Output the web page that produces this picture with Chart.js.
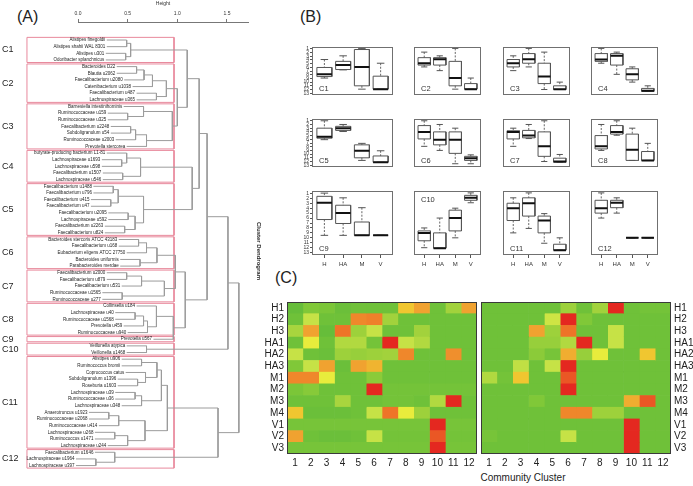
<!DOCTYPE html>
<html>
<head>
<meta charset="utf-8">
<script src="https://cdn.jsdelivr.net/npm/chart.js@4.4.0/dist/chart.umd.min.js"></script>
<style>
  body { margin: 0; width: 693px; height: 486px; position: relative; overflow: hidden; background: #fff;
         font-family: "Liberation Sans", Arial, sans-serif; color: #222; }
  canvas { position: absolute; }
  .tag { position: absolute; font-size: 16px; line-height: 1; }
  .axis-title { position: absolute; font-size: 10px; line-height: 1; text-align: center; }
</style>
</head>
<body>
<div class="tag" style="left:17px;top:9px">(A)</div>
<div class="tag" style="left:300px;top:9px">(B)</div>
<div class="tag" style="left:275px;top:270px">(C)</div>
<div class="axis-title" style="left:423px;top:473px;width:200px">Community Cluster</div>
<canvas id="dendro" width="262" height="486" style="left:0;top:0"></canvas>
<canvas id="heatLeft" width="240" height="178" style="left:240px;top:292px"></canvas>
<canvas id="heatRight" width="215" height="178" style="left:478px;top:292px"></canvas>

<script>
// ---- data ----
const leafNames = [
  'Alistipes finegoldii', 'Alistipes shahii WAL 8301', 'Alistipes u301', 'Odoribacter splanchnicus',
  'Bacteroides D22', 'Blautia u2062', 'Faecalibacterium u2080', 'Catenibacterium u1038',
  'Faecalibacterium u487', 'Lachnospiraceae u365',
  'Barnesiella intestinihominis', 'Ruminococcaceae u159', 'Ruminococcaceae u325', 'Faecalibacterium u2248',
  'Subdoligranulum u54', 'Ruminococcaceae u2003', 'Prevotella stercorea',
  'butyrate-producing bacterium L1-81', 'Lachnospiraceae u1693', 'Lachnospiraceae u598',
  'Faecalibacterium u1507', 'Lachnospiraceae u546',
  'Faecalibacterium u1488', 'Faecalibacterium u796', 'Faecalibacterium u415', 'Faecalibacterium u47',
  'Faecalibacterium u2095', 'Lachnospiraceae u592', 'Faecalibacterium u2263', 'Faecalibacterium u824',
  'Bacteroides stercoris ATCC 43183', 'Faecalibacterium u168', 'Eubacterium eligens ATCC 27750',
  'Bacteroides uniformis', 'Parabacteroides merdae',
  'Faecalibacterium u2000', 'Faecalibacterium u879', 'Faecalibacterium u531', 'Ruminococcaceae u1565',
  'Ruminococcaceae u277',
  'Collinsella u184', 'Lachnospiraceae u40', 'Ruminococcaceae u1568', 'Prevotella u459', 'Ruminococcaceae u940',
  'Prevotella u567',
  'Veillonella atypica', 'Veillonella u1468',
  'Alistipes u906', 'Ruminococcus bromii', 'Coprococcus catus', 'Subdoligranulum u1396', 'Roseburia u1603',
  'Lachnospiraceae u39', 'Ruminococcaceae u36', 'Lachnospiraceae u348', 'Anaerotruncus u1923',
  'Ruminococcaceae u2068', 'Ruminococcaceae u414', 'Lachnospiraceae u268', 'Ruminococcus u1471',
  'Lachnospiraceae u244',
  'Faecalibacterium u1646', 'Lachnospiraceae u1964', 'Lachnospiraceae u397'
];
const clusterNames = ['C1', 'C2', 'C3', 'C4', 'C5', 'C6', 'C7', 'C8', 'C9', 'C10', 'C11', 'C12'];
const clusterSizes = [4, 6, 7, 5, 8, 5, 5, 5, 1, 2, 14, 3];

// hclust-style merge table: negative = leaf, positive = earlier merge row; third value = height
const merges = [
  [-1, -2, 0.49], [-3, -4, 0.48], [1, 2, 0.53],
  [-5, -6, 0.59], [4, -7, 0.665], [5, -8, 0.75], [-9, -10, 0.79], [6, 7, 0.89],
  [-12, -13, 0.50], [-11, 9, 0.66], [-14, -15, 0.53], [11, -16, 0.58], [12, -17, 0.69], [10, 13, 0.95],
  [8, 14, 1.00], [3, 15, 1.10],
  [-19, -20, 0.44], [-18, 17, 0.49], [-21, -22, 0.45], [18, 19, 0.63],
  [-23, -24, 0.355], [-25, -26, 0.33], [21, 22, 0.405], [-27, -28, 0.505], [-29, -30, 0.47], [24, 25, 0.575],
  [23, 26, 0.66],
  [20, 27, 1.15], [16, 28, 1.22],
  [-31, -32, 0.61], [30, -33, 0.69], [-34, -35, 0.625], [31, 32, 0.795],
  [-36, -37, 0.49], [34, -38, 0.64], [-39, -40, 0.445], [35, 36, 0.87],
  [33, 37, 0.98],
  [-42, -43, 0.575], [39, -44, 0.66], [40, -45, 0.70], [-41, 41, 0.79],
  [42, -46, 0.96], [38, 43, 1.08], [29, 44, 1.30],
  [-47, -48, 0.69], [45, 46, 1.51],
  [-49, -50, 0.64], [-52, -53, 0.60], [-51, 49, 0.68], [48, 50, 0.795],
  [-54, -55, 0.575], [52, -56, 0.64], [51, 53, 0.84],
  [-57, -58, 0.31], [55, -59, 0.41], [-60, -61, 0.37], [57, -62, 0.50], [56, 58, 0.675], [54, 59, 0.90],
  [-64, -65, 0.18], [-63, 61, 0.37],
  [60, 62, 1.41], [47, 63, 1.62]
];
const heightTicks = [0, 0.5, 1.0, 1.5];

const groups = ['H', 'HA', 'M', 'V'];
const rankTicks = [1, 2, 3, 4, 5, 6, 7, 8, 9, 10, 11, 12, 13];
// per cluster, per group: [lower whisker, Q1, median, Q3, upper whisker] (rank, 1 = top)
const boxStats = [
  [[3.9, 6.05, 7.9, 8.5, 8.9], [2.9, 4.4, 5.4, 6.6, 6.7], [0.9, 1.2, 5.9, 11.0, 11.9], [4.9, 8.4, 11.9, 11.9, 11.9]],
  [[1.9, 3.4, 4.9, 5.4, 5.9], [2.9, 3.4, 3.8, 5.4, 6.9], [0.9, 4.4, 8.9, 11.0, 11.9], [8.9, 10.4, 11.9, 11.9, 11.9]],
  [[2.9, 3.9, 4.9, 5.9, 6.9], [0.9, 2.3, 3.8, 4.9, 5.9], [1.9, 4.9, 8.5, 10.4, 12.0], [10.0, 11.0, 11.9, 12.0, 12.0]],
  [[0.9, 2.3, 3.9, 4.4, 4.9], [1.9, 2.3, 2.9, 5.4, 7.9], [5.9, 6.4, 7.9, 9.4, 10.0], [11.0, 11.7, 12.3, 12.5, 12.5]],
  [[1.0, 3.0, 5.3, 5.7, 6.1], [2.0, 2.5, 3.0, 3.6, 3.9], [7.1, 7.5, 9.1, 11.0, 11.7], [9.1, 10.5, 12.2, 12.2, 12.2]],
  [[1.0, 2.3, 4.0, 5.9, 7.9], [2.0, 4.0, 6.1, 7.5, 9.0], [3.0, 4.0, 6.1, 9.8, 12.6], [10.2, 10.6, 11.1, 11.7, 12.6]],
  [[3.0, 3.7, 4.0, 5.9, 7.9], [2.0, 3.6, 5.0, 5.6, 5.8], [1.0, 4.0, 7.9, 10.6, 12.0], [10.1, 11.1, 12.0, 12.2, 12.2]],
  [[2.0, 5.0, 7.9, 8.6, 9.0], [1.0, 2.3, 4.0, 4.6, 4.9], [3.0, 4.6, 8.8, 11.7, 11.7], [7.1, 9.3, 11.7, 11.7, 11.7]],
  [[0.95, 1.6, 2.9, 6.3, 9.5], [1.9, 3.4, 5.0, 7.1, 9.5], [3.9, 6.8, 9.5, 9.5, 9.5], [9.5, 9.5, 9.5, 9.5, 9.5]],
  [[8.0, 8.6, 9.0, 10.6, 12.0], [6.0, 9.0, 12.1, 12.1, 12.1], [4.0, 4.4, 6.0, 8.6, 10.0], [0.9, 1.4, 1.9, 2.4, 2.9]],
  [[1.9, 3.0, 4.0, 6.5, 9.0], [0.9, 1.9, 3.0, 5.6, 8.1], [5.1, 5.6, 6.5, 9.0, 11.1], [10.0, 11.3, 12.5, 12.5, 12.5]],
  [[0.9, 2.4, 4.0, 5.0, 6.0], [1.9, 2.4, 2.9, 3.9, 5.0], [10, 10, 10, 10, 10], [10, 10, 10, 10, 10]]
];

const heatRows = ['H1', 'H2', 'H3', 'HA1', 'HA2', 'HA3', 'M1', 'M2', 'M3', 'M4', 'V1', 'V2', 'V3'];
const heatCols = ['1', '2', '3', '4', '5', '6', '7', '8', '9', '10', '11', '12'];
// 0 = green ... 1 = red
const heatLeftValues = [
  [0.00, 0.15, 0.12, 0.03, 0.06, 0.05, 0.05, 0.65, 0.75, 0.05, 0.30, 0.75],
  [0.05, 0.42, 0.05, 0.05, 0.82, 0.84, 0.30, 0.05, 0.05, 0.05, 0.05, 0.05],
  [0.32, 0.75, 0.00, 0.87, 0.28, 0.42, 0.05, 0.05, 0.30, 0.05, 0.05, 0.05],
  [0.05, 0.55, 0.05, 0.35, 0.35, 0.08, 1.00, 0.42, 0.35, 0.05, 0.05, 0.05],
  [0.42, 0.05, 0.03, 0.28, 0.25, 0.28, 0.30, 0.82, 0.05, 0.05, 0.80, 0.05],
  [0.15, 0.42, 0.75, 0.03, 0.75, 0.70, 0.05, 0.05, 0.05, 0.05, 0.05, 0.05],
  [0.82, 0.82, 0.55, 0.05, 0.05, 0.20, 0.05, 0.05, 0.05, 0.05, 0.05, 0.05],
  [0.12, 0.18, 0.05, 0.05, 0.05, 1.00, 0.08, 0.08, 0.08, 0.08, 0.08, 0.08],
  [0.05, 0.05, 0.05, 0.32, 0.05, 0.05, 0.08, 0.08, 0.05, 0.35, 1.00, 0.05],
  [0.65, 0.03, 0.03, 0.03, 0.05, 0.42, 0.87, 0.55, 0.28, 0.05, 0.05, 0.05],
  [0.10, 0.10, 0.10, 0.10, 0.10, 0.10, 0.10, 0.10, 0.10, 1.00, 0.10, 0.10],
  [0.75, 0.05, 0.03, 0.03, 0.05, 0.42, 0.08, 0.08, 0.08, 0.92, 0.08, 0.08],
  [0.10, 0.10, 0.10, 0.10, 0.10, 0.10, 0.10, 0.10, 0.10, 1.00, 0.10, 0.10]
];
const heatRightValues = [
  [0.05, 0.05, 0.05, 0.05, 0.05, 0.28, 0.05, 0.30, 1.00, 0.05, 0.08, 0.08],
  [0.05, 0.05, 0.05, 0.05, 0.45, 1.00, 0.15, 0.05, 0.05, 0.05, 0.05, 0.05],
  [0.05, 0.05, 0.05, 0.75, 0.28, 0.87, 0.05, 0.05, 0.42, 0.05, 0.05, 0.05],
  [0.05, 0.05, 0.05, 0.25, 0.25, 0.35, 1.00, 0.05, 0.42, 0.05, 0.05, 0.05],
  [0.05, 0.05, 0.05, 0.20, 0.10, 0.72, 0.25, 0.55, 0.05, 0.05, 0.65, 0.05],
  [0.05, 0.05, 0.40, 0.05, 0.42, 1.00, 0.05, 0.05, 0.05, 0.05, 0.05, 0.05],
  [0.35, 0.08, 0.65, 0.05, 0.05, 0.92, 0.05, 0.05, 0.05, 0.05, 0.05, 0.05],
  [0.05, 0.05, 0.05, 0.05, 0.05, 1.00, 0.05, 0.05, 0.05, 0.05, 0.05, 0.05],
  [0.05, 0.05, 0.05, 0.15, 0.05, 0.05, 0.05, 0.05, 0.05, 0.72, 0.92, 0.05],
  [0.05, 0.05, 0.05, 0.05, 0.05, 0.82, 0.82, 0.28, 0.28, 0.05, 0.05, 0.05],
  [0.05, 0.05, 0.05, 0.05, 0.05, 0.05, 0.05, 0.05, 0.05, 1.00, 0.05, 0.05],
  [0.10, 0.05, 0.05, 0.05, 0.05, 0.42, 0.05, 0.05, 0.05, 1.00, 0.05, 0.05],
  [0.05, 0.05, 0.05, 0.05, 0.05, 0.05, 0.05, 0.05, 0.05, 1.00, 0.05, 0.05]
];

// ---- defaults ----
const FONT = '"Liberation Sans", Arial, sans-serif';
Chart.defaults.font.family = FONT;
Chart.defaults.color = '#222';
Chart.defaults.responsive = false;
Chart.defaults.animation = false;
Chart.defaults.events = [];
Chart.defaults.plugins.legend.display = false;
Chart.defaults.plugins.tooltip.enabled = false;

const gap = () => ({ x: NaN, y: NaN });

// draws a plain rectangle round the plot area
const frame = (color, width) => ({
  id: 'frame',
  afterDatasetsDraw(chart) {
    const { ctx, chartArea: a } = chart;
    ctx.save();
    ctx.strokeStyle = color;
    ctx.lineWidth = width;
    ctx.strokeRect(a.left + 0.5, a.top + 0.5, a.right - a.left - 1, a.bottom - a.top - 1);
    ctx.restore();
  }
});

// ---- (A) dendrogram ----
const HANG = 0.2;
const nodes = [];
const leafStart = [];
const treeSegs = [];
merges.forEach(([a, b, h]) => {
  const ends = [a, b].map(id => {
    if (id < 0) {
      const i = -id - 1;
      leafStart[i] = h - HANG;
      return { x: h - HANG, y: i };
    }
    return nodes[id - 1];
  });
  treeSegs.push({ x: ends[0].x, y: ends[0].y }, { x: h, y: ends[0].y },
                { x: h, y: ends[1].y }, { x: ends[1].x, y: ends[1].y }, gap());
  nodes.push({ x: h, y: (ends[0].y + ends[1].y) / 2 });
});

const BOX_L = -0.514, BOX_R = 0.967;
const boxSegs = [];
const clusterMid = [];
let first = 0;
clusterSizes.forEach(n => {
  const top = first - 0.4, bottom = first + n - 1 + 0.38;
  boxSegs.push({ x: BOX_L, y: top }, { x: BOX_R, y: top }, { x: BOX_R, y: bottom },
               { x: BOX_L, y: bottom }, { x: BOX_L, y: top }, gap());
  clusterMid.push(first + (n - 1) / 2);
  first += n;
});

const dendroText = {
  id: 'dendroText',
  afterDatasetsDraw(chart) {
    const { ctx, scales: { x, y } } = chart;
    ctx.save();
    ctx.fillStyle = '#1e1e1e';
    ctx.textBaseline = 'middle';
    ctx.textAlign = 'right';
    ctx.font = '4.5px ' + FONT;
    leafNames.forEach((name, i) => {
      ctx.fillText(name, x.getPixelForValue(leafStart[i]) - 1.5, y.getPixelForValue(i));
    });
    ctx.textAlign = 'left';
    ctx.font = '9px ' + FONT;
    clusterNames.forEach((name, k) => ctx.fillText(name, 2, y.getPixelForValue(clusterMid[k])));
    ctx.restore();
  }
};

new Chart(document.getElementById('dendro'), {
  type: 'scatter',
  data: {
    datasets: [
      { data: treeSegs, showLine: true, borderColor: '#9c9c9c', borderWidth: 1, pointRadius: 0, clip: false },
      { data: boxSegs, showLine: true, borderColor: '#e8899c', borderWidth: 1, pointRadius: 0, clip: false }
    ]
  },
  options: {
    layout: { padding: { left: 78, right: 0, top: 0, bottom: 6 } },
    scales: {
      x: {
        type: 'linear', position: 'top', min: 0, max: 1.712,
        afterBuildTicks: s => { s.ticks = heightTicks.map(v => ({ value: v })); },
        ticks: { font: { size: 5 }, color: '#333', padding: 2, maxRotation: 0, autoSkip: false,
                 callback: v => v.toFixed(1) },
        grid: { drawOnChartArea: false, drawTicks: true, tickLength: 3, color: '#777' },
        border: { display: true, color: '#777', width: 1 },
        title: { display: true, text: 'Height', font: { size: 5 }, color: '#333', padding: { top: 1, bottom: 0 } },
        afterFit: s => { s.height = 22; }
      },
      y: {
        type: 'linear', position: 'right', reverse: true, min: -2.71, max: 66.17,
        ticks: { display: false },
        grid: { display: false },
        border: { display: false },
        title: { display: true, text: 'Cluster Dendrogram', font: { size: 6, weight: 'bold' }, color: '#222', padding: 0 },
        afterFit: s => { s.width = 14; }
      }
    }
  },
  plugins: [dendroText]
});

// ---- (B) boxplots ----
const colLeft = [312, 400, 489, 577];
const rowTop = [47, 119, 191];
const PW = 81, PH = 64;
const topLabelPanels = ['C10'];

const panelLabel = (text, atTop) => ({
  id: 'panelLabel',
  afterDatasetsDraw(chart) {
    const { ctx, chartArea: a } = chart;
    ctx.save();
    ctx.font = '7.5px ' + FONT;
    ctx.fillStyle = '#333';
    ctx.fillText(text, a.left + 7, atTop ? a.top + 11 : a.bottom - 4);
    ctx.restore();
  }
});

boxStats.forEach((stats, p) => {
  const r = Math.floor(p / 4), c = p % 4;
  const cv = document.createElement('canvas');
  cv.width = PW + 16;
  cv.height = PH + 20;
  cv.style.left = (colLeft[c] - 14) + 'px';
  cv.style.top = (rowTop[r] - 4) + 'px';
  document.body.appendChild(cv);

  const boxes = [], whiskers = [], caps = [], medians = [];
  stats.forEach(([lo, q1, md, q3, hi], g) => {
    const x = g + 1;
    boxes.push({ x: x - 0.4, y: q1 }, { x: x + 0.4, y: q1 }, { x: x + 0.4, y: q3 },
               { x: x - 0.4, y: q3 }, { x: x - 0.4, y: q1 }, gap());
    whiskers.push({ x, y: q3 }, { x, y: hi }, gap(), { x, y: lo }, { x, y: q1 }, gap());
    caps.push({ x: x - 0.2, y: lo }, { x: x + 0.2, y: lo }, gap(), { x: x - 0.2, y: hi }, { x: x + 0.2, y: hi }, gap());
    medians.push({ x: x - 0.4, y: md }, { x: x + 0.4, y: md }, gap());
  });

  const line = (data, color, width, dash) => ({
    data, showLine: true, borderColor: color, borderWidth: width, borderDash: dash || [],
    pointRadius: 0, clip: false
  });

  new Chart(cv, {
    type: 'scatter',
    data: {
      datasets: [
        line(medians, '#111', 2),
        line(caps, '#555', 1),
        line(boxes, '#555', 1),
        line(whiskers, '#666', 1, [2, 1.5])
      ]
    },
    options: {
      layout: { padding: { left: c === 0 ? 0 : 14, top: 4, right: 2, bottom: r === 2 ? 0 : 16 } },
      scales: {
        x: {
          type: 'linear', min: 0.34, max: 4.66, display: r === 2,
          afterBuildTicks: s => { s.ticks = groups.map((_, i) => ({ value: i + 1 })); },
          ticks: { callback: v => groups[v - 1], font: { size: 6 }, color: '#333', padding: 3,
                   maxRotation: 0, autoSkip: false },
          grid: { drawOnChartArea: false, tickLength: 3, color: '#555' },
          border: { display: false },
          afterFit: s => { s.height = 16; }
        },
        y: {
          type: 'linear', reverse: true, min: 0.52, max: 13.48, display: c === 0,
          afterBuildTicks: s => { s.ticks = rankTicks.map(v => ({ value: v })); },
          ticks: { font: { size: 5, lineHeight: 1 }, color: '#333', padding: 1, autoSkip: false },
          grid: { drawOnChartArea: false, tickLength: 2, color: '#555' },
          border: { display: false },
          afterFit: s => { s.width = 14; }
        }
      }
    },
    plugins: [frame('#707070', 1), panelLabel(clusterNames[p], topLabelPanels.includes(clusterNames[p]))]
  });
});

// ---- (C) heatmaps ----
const heatStops = [
  [0.00, [102, 189, 58]], [0.15, [128, 200, 56]], [0.30, [162, 210, 60]], [0.42, [198, 226, 70]],
  [0.55, [232, 236, 60]], [0.65, [240, 198, 48]], [0.75, [240, 162, 48]], [0.87, [238, 116, 40]],
  [1.00, [228, 40, 32]]
];
function heatColor(v) {
  for (let k = 1; k < heatStops.length; k++) {
    const [v0, c0] = heatStops[k - 1];
    const [v1, c1] = heatStops[k];
    if (v <= v1) {
      const t = (v - v0) / (v1 - v0);
      return 'rgb(' + c0.map((ch, j) => Math.round(ch + (c1[j] - ch) * t)).join(',') + ')';
    }
  }
  return 'rgb(228,40,32)';
}
// black rules between host groups (H / HA / M / V)
const groupOf = name => name.replace(/\d+$/, '');
const separators = heatRows.map((n, i) => (i > 0 && groupOf(n) !== groupOf(heatRows[i - 1])) ? i : -1)
                           .filter(i => i > 0);

function heatmap(id, values, side) {
  const isLeft = side === 'left';
  return new Chart(document.getElementById(id), {
    type: 'bar',
    data: {
      labels: heatRows,
      datasets: heatCols.map((col, ci) => ({
        label: col,
        data: heatRows.map(() => [ci, ci + 1]),
        backgroundColor: values.map(row => heatColor(row[ci])),
        borderWidth: 0,
        barPercentage: 1,
        categoryPercentage: 1
      }))
    },
    options: {
      indexAxis: 'y',
      layout: { padding: { left: isLeft ? 0 : 3, right: isLeft ? 3 : 0, top: 10, bottom: 0 } },
      scales: {
        x: {
          type: 'linear', min: 0, max: heatCols.length, stacked: false,
          afterBuildTicks: s => { s.ticks = heatCols.map((_, i) => ({ value: i + 0.5 })); },
          ticks: { callback: (v, i) => heatCols[i], font: { size: 10 }, color: '#222', padding: 3,
                   maxRotation: 0, autoSkip: false },
          grid: { display: false, drawTicks: false },
          border: { display: false },
          afterFit: s => { s.height = 16; }
        },
        y: {
          type: 'category', position: side, stacked: true, offset: true,
          ticks: { font: { size: 10, lineHeight: 1 }, color: '#222', padding: 3, autoSkip: false },
          grid: {
            offset: true, drawTicks: false,
            color: ctx => separators.includes(ctx.index) ? '#1b3410' : 'rgba(0,0,0,0)',
            lineWidth: 1.6
          },
          border: { display: false },
          afterFit: s => { s.width = isLeft ? 47 : 22; }
        }
      }
    },
    plugins: [frame('#3a3a3a', 1)]
  });
}

heatmap('heatLeft', heatLeftValues, 'left');
heatmap('heatRight', heatRightValues, 'right');
</script>
</body>
</html>
